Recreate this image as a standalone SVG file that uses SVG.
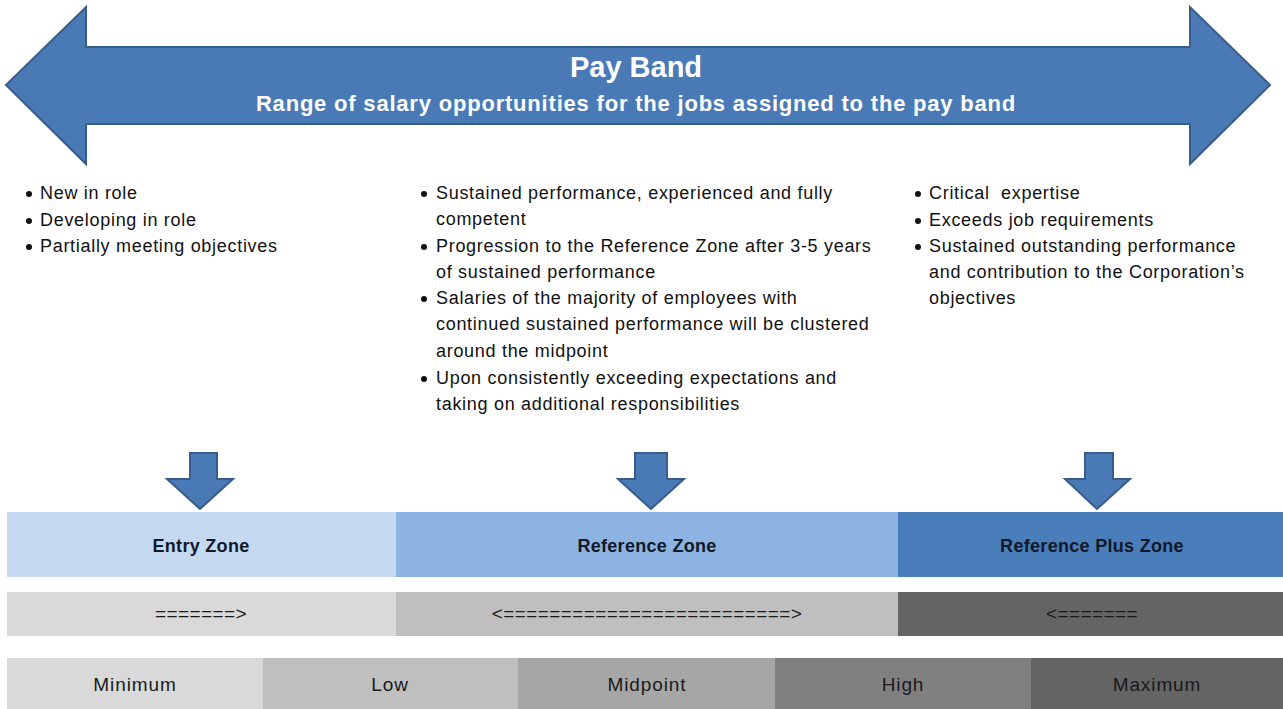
<svg xmlns="http://www.w3.org/2000/svg" width="1283" height="709" viewBox="0 0 1283 709">
<style>
.arrow{fill:#4a7ab5;stroke:#385d8a;stroke-width:2;stroke-linejoin:miter}
.title{font-family:"Liberation Sans",Arial,sans-serif;font-weight:bold;fill:#ffffff;text-anchor:middle}
.body{font-family:"Liberation Sans",Arial,sans-serif;font-size:18px;letter-spacing:0.7px;fill:#111111}
.dot{fill:#111111}
.zone{font-family:"Liberation Sans",Arial,sans-serif;font-size:18px;letter-spacing:0.3px;font-weight:bold;fill:#111827;text-anchor:middle}
.lbl{font-family:"Liberation Sans",Arial,sans-serif;font-size:19px;letter-spacing:0.9px;fill:#1a1a1a;text-anchor:middle}
.eq{font-family:"Liberation Sans",Arial,sans-serif;font-size:19px;letter-spacing:0.4px;fill:#1a1a1a;text-anchor:middle}
</style>
<rect width="1283" height="709" fill="#ffffff"/>
<g id="payband">
<polygon class="arrow" points="6,85 86,7 86,47 1190,47 1190,7 1270,85 1190,164 1190,124 86,124 86,164"/>
<text class="title" x="636" y="77" font-size="29">Pay Band</text>
<text class="title" x="636" y="111" font-size="22" letter-spacing="0.8">Range of salary opportunities for the jobs assigned to the pay band</text>
</g>
<g id="entry-desc" class="body">
<circle class="dot" cx="29" cy="194" r="3"/><text x="40" y="199">New in role</text>
<circle class="dot" cx="29" cy="221" r="3"/><text x="40" y="226">Developing in role</text>
<circle class="dot" cx="29" cy="247" r="3"/><text x="40" y="252">Partially meeting objectives</text>
</g>
<g id="reference-desc" class="body">
<circle class="dot" cx="424" cy="194" r="3"/><text x="436" y="199">Sustained performance, experienced and fully</text>
<text x="436" y="225">competent</text>
<circle class="dot" cx="424" cy="247" r="3"/><text x="436" y="252">Progression to the Reference Zone after 3-5 years</text>
<text x="436" y="278">of sustained performance</text>
<circle class="dot" cx="424" cy="299" r="3"/><text x="436" y="304">Salaries of the majority of employees with</text>
<text x="436" y="330">continued sustained performance will be clustered</text>
<text x="436" y="357">around the midpoint</text>
<circle class="dot" cx="424" cy="379" r="3"/><text x="436" y="384">Upon consistently exceeding expectations and</text>
<text x="436" y="410">taking on additional responsibilities</text>
</g>
<g id="plus-desc" class="body">
<circle class="dot" cx="918" cy="194" r="3"/><text x="929" y="199">Critical&#160; expertise</text>
<circle class="dot" cx="918" cy="221" r="3"/><text x="929" y="226">Exceeds job requirements</text>
<circle class="dot" cx="918" cy="247" r="3"/><text x="929" y="252">Sustained outstanding performance</text>
<text x="929" y="278">and contribution to the Corporation’s</text>
<text x="929" y="304">objectives</text>
</g>
<g id="connectors">
<polygon class="arrow" points="190,453 217,453 217,479 233,479 200,509 167,479 190,479"/>
<polygon class="arrow" points="635,453 667,453 667,479 684,479 651,509 618,479 635,479"/>
<polygon class="arrow" points="1085,453 1113,453 1113,479 1130,479 1097,509 1065,479 1085,479"/>
</g>
<g id="zones">
<rect x="7" y="512" width="389" height="65" fill="#c5d9f1"/>
<rect x="396" y="512" width="502" height="65" fill="#8db3e2"/>
<rect x="898" y="512" width="385" height="65" fill="#4a7ebb"/>
<text class="zone" x="201" y="552">Entry Zone</text>
<text class="zone" x="647" y="552">Reference Zone</text>
<text class="zone" x="1092" y="552">Reference Plus Zone</text>
</g>
<g id="movement">
<rect x="7" y="592" width="389" height="44" fill="#d9d9d9"/>
<rect x="396" y="592" width="502" height="44" fill="#bfbfbf"/>
<rect x="898" y="592" width="385" height="44" fill="#646464"/>
<text class="eq" x="201" y="620">=======&gt;</text>
<text class="eq" x="647" y="620">&lt;=========================&gt;</text>
<text class="eq" x="1092" y="620">&lt;=======</text>
</g>
<g id="scale">
<rect x="7" y="658" width="256" height="51" fill="#d9d9d9"/>
<rect x="263" y="658" width="255" height="51" fill="#bfbfbf"/>
<rect x="518" y="658" width="257" height="51" fill="#a6a6a6"/>
<rect x="775" y="658" width="256" height="51" fill="#808080"/>
<rect x="1031" y="658" width="252" height="51" fill="#646464"/>
<text class="lbl" x="135" y="691">Minimum</text>
<text class="lbl" x="390" y="691">Low</text>
<text class="lbl" x="647" y="691">Midpoint</text>
<text class="lbl" x="903" y="691">High</text>
<text class="lbl" x="1157" y="691">Maximum</text>
</g>
</svg>
